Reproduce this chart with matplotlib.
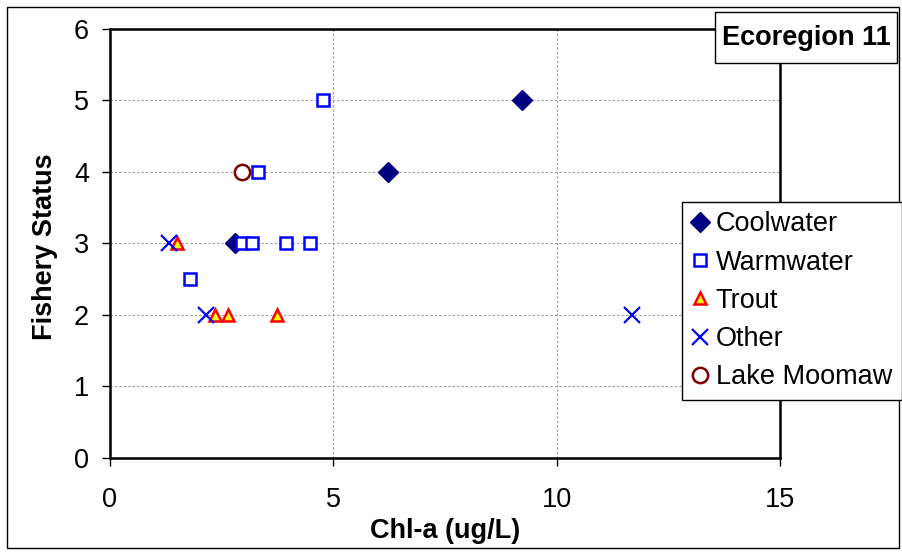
import matplotlib
matplotlib.use("Agg")
import matplotlib.pyplot as plt
from matplotlib.patches import Rectangle

plt.rcParams['font.family'] = ['Liberation Sans', 'DejaVu Sans']

cool_x = [9.22, 6.22, 2.8]
cool_y = [5, 4, 3]
warm_x = [4.77, 3.31, 2.95, 3.18, 3.94, 4.48, 1.8]
warm_y = [5, 4, 3, 3, 3, 3, 2.5]
trout_x = [1.51, 2.36, 2.64, 3.75]
trout_y = [3, 2, 2, 2]
other_x = [1.31, 2.16, 11.69]
other_y = [3, 2, 2]
moomaw_x = [2.95]
moomaw_y = [4]

FS = 19.5

fig = plt.figure(figsize=(9.03, 5.52), dpi=100)
ax = fig.add_axes([0.1218, 0.1703, 0.742, 0.7772])

ax.plot(cool_x, cool_y, linestyle='none', marker='D', markersize=10,
        color='#000080', label='Coolwater', zorder=3)
ax.plot(warm_x, warm_y, linestyle='none', marker='s', markersize=8.5,
        markerfacecolor='white', markeredgecolor='#0000FF', markeredgewidth=1.8,
        label='Warmwater', zorder=3)
ax.plot(trout_x, trout_y, linestyle='none', marker='^', markersize=9,
        markerfacecolor='#FFFF00', markeredgecolor='#FF0000', markeredgewidth=1.8,
        label='Trout', zorder=4)
ax.plot(other_x, other_y, linestyle='none', marker='x', markersize=12,
        color='#0000FF', markeredgewidth=1.6, label='Other', zorder=5)
ax.plot(moomaw_x, moomaw_y, linestyle='none', marker='o', markersize=11,
        markerfacecolor='white', markeredgecolor='#800000', markeredgewidth=1.8,
        label='Lake Moomaw', zorder=3)

ax.set_xlim(0, 15)
ax.set_ylim(0, 6)
ax.set_xticks([0, 5, 10, 15])
ax.set_yticks([0, 1, 2, 3, 4, 5, 6])
ax.grid(True, color='#999999', linestyle=(0, (2, 2)), linewidth=0.8)
ax.tick_params(labelsize=FS, direction='out', length=6, width=1)
ax.tick_params(axis='x', pad=15)
ax.tick_params(axis='y', pad=9)
for s in ax.spines.values():
    s.set_linewidth(1.8)
    s.set_color('black')

ax.set_xlabel('Chl-a (ug/L)', fontsize=FS, fontweight='bold')
ax.set_ylabel('Fishery Status', fontsize=FS, fontweight='bold')
ax.xaxis.set_label_coords(0.5, (458 - 531) / 429)
ax.xaxis.label.set_va('center')
ax.yaxis.set_label_coords((45 - 110) / 670, 0.493)
ax.yaxis.label.set_va('center')

leg = fig.legend(loc='upper left', bbox_to_anchor=(682 / 903, 1 - 202 / 552),
                 fontsize=FS, frameon=True, fancybox=False, edgecolor='black',
                 framealpha=1, handlelength=0.6, handletextpad=0.3,
                 borderpad=0.35, labelspacing=0.45, borderaxespad=0)
leg.get_frame().set_linewidth(1.0)

fig.patches.append(Rectangle((715 / 903, 1 - 63 / 552), 182 / 903, 51 / 552,
                             transform=fig.transFigure, facecolor='white',
                             edgecolor='black', linewidth=1.0, zorder=5))
fig.text(806 / 903, 1 - 38 / 552, 'Ecoregion 11', fontsize=FS, fontweight='bold',
         ha='center', va='center', zorder=6)

fig.patches.append(Rectangle((7 / 903, 4 / 552), 892 / 903, 541 / 552, transform=fig.transFigure,
                             fill=False, edgecolor='black', linewidth=1.0))

fig.savefig('out.png', dpi=100)
